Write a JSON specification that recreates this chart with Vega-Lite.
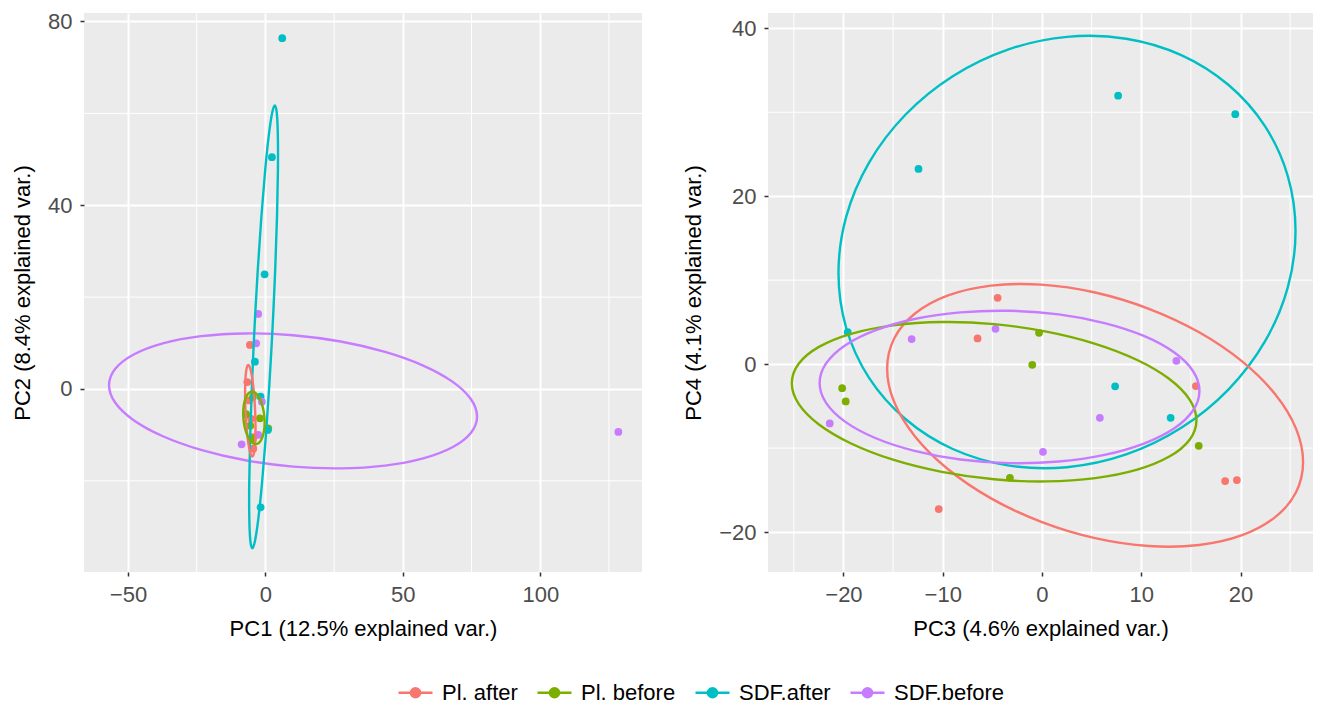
{
"$schema": "https://vega.github.io/schema/vega-lite/v6.json",
"background": "white",
"padding": {"left": 11, "top": 10, "right": 5, "bottom": 60},
"config": {
 "font": "Liberation Sans",
 "view": {"fill": "#EBEBEB", "stroke": null},
 "axis": {"domain": false, "grid": true, "gridColor": "#FFFFFF", "gridWidth": 2, "tickColor": "#333333", "tickSize": 4, "tickWidth": 1.5, "labelFont": "Liberation Sans", "labelFontSize": 22, "labelColor": "#4D4D4D", "labelPadding": 8, "labelFlush": false, "titleFont": "Liberation Sans", "titleFontSize": 22, "titleFontWeight": "normal", "titleColor": "#000000", "titlePadding": 13},
 "legend": {"orient": "none", "legendX": 313, "legendY": 661, "direction": "horizontal", "labelFont": "Liberation Sans", "labelFontSize": 22, "labelColor": "#000000", "symbolSize": 1156, "symbolStrokeWidth": 2.4, "labelOffset": 8, "columnPadding": 14, "padding": 0, "symbolType": "M-1,0H1M0.27,0A0.27,0.27,0,1,1,-0.27,0A0.27,0.27,0,1,1,0.27,0"}
},
"datasets": {
 "grid": [
  {"panel":"A","axis":"x","x":-25},{"panel":"A","axis":"x","x":25},{"panel":"A","axis":"x","x":75},{"panel":"A","axis":"x","x":125},
  {"panel":"A","axis":"y","y":-20},{"panel":"A","axis":"y","y":20},{"panel":"A","axis":"y","y":60},
  {"panel":"B","axis":"x","x":-25},{"panel":"B","axis":"x","x":-15},{"panel":"B","axis":"x","x":-5},{"panel":"B","axis":"x","x":5},{"panel":"B","axis":"x","x":15},{"panel":"B","axis":"x","x":25},
  {"panel":"B","axis":"y","y":-10},{"panel":"B","axis":"y","y":10},{"panel":"B","axis":"y","y":30}
 ],
 "pts": [
  {"panel":"A","group":"Pl. after","x":-5.64,"y":9.58},{"panel":"A","group":"Pl. after","x":-6.6,"y":1.5},{"panel":"A","group":"Pl. after","x":-6.0,"y":-2.5},{"panel":"A","group":"Pl. after","x":-5.2,"y":-6.5},{"panel":"A","group":"Pl. after","x":-4.6,"y":-10.5},{"panel":"A","group":"Pl. after","x":-4.4,"y":-13.0},
  {"panel":"A","group":"Pl. before","x":-2.0,"y":-6.38},{"panel":"A","group":"Pl. before","x":1.02,"y":-8.56},{"panel":"A","group":"Pl. before","x":-4.6,"y":-1.8},{"panel":"A","group":"Pl. before","x":-7.0,"y":-5.5},{"panel":"A","group":"Pl. before","x":-4.5,"y":-10.8},{"panel":"A","group":"Pl. before","x":-5.5,"y":-8.0},
  {"panel":"A","group":"SDF.after","x":6.11,"y":76.36},{"panel":"A","group":"SDF.after","x":2.36,"y":50.45},{"panel":"A","group":"SDF.after","x":-0.29,"y":24.97},{"panel":"A","group":"SDF.after","x":-3.82,"y":5.94},{"panel":"A","group":"SDF.after","x":-1.75,"y":-1.67},{"panel":"A","group":"SDF.after","x":0.91,"y":-8.93},{"panel":"A","group":"SDF.after","x":-1.75,"y":-25.76},
  {"panel":"A","group":"SDF.before","x":128.4,"y":-9.36},{"panel":"A","group":"SDF.before","x":-2.62,"y":16.33},{"panel":"A","group":"SDF.before","x":-3.35,"y":9.95},{"panel":"A","group":"SDF.before","x":-8.65,"y":-12.04},{"panel":"A","group":"SDF.before","x":-2.62,"y":-10.02},{"panel":"A","group":"SDF.before","x":-1.27,"y":-2.77},
  {"panel":"B","group":"Pl. after","x":-4.47,"y":7.89},{"panel":"B","group":"Pl. after","x":-6.49,"y":3.06},{"panel":"B","group":"Pl. after","x":-10.4,"y":-17.26},{"panel":"B","group":"Pl. after","x":15.5,"y":-2.62},{"panel":"B","group":"Pl. after","x":18.45,"y":-13.93},{"panel":"B","group":"Pl. after","x":19.63,"y":-13.81},
  {"panel":"B","group":"Pl. before","x":-0.3,"y":3.73},{"panel":"B","group":"Pl. before","x":-0.98,"y":-0.08},{"panel":"B","group":"Pl. before","x":-20.13,"y":-2.86},{"panel":"B","group":"Pl. before","x":-19.77,"y":-4.44},{"panel":"B","group":"Pl. before","x":-3.23,"y":-13.54},{"panel":"B","group":"Pl. before","x":15.79,"y":-9.73},
  {"panel":"B","group":"SDF.after","x":-12.44,"y":23.25},{"panel":"B","group":"SDF.after","x":7.67,"y":31.97},{"panel":"B","group":"SDF.after","x":19.47,"y":29.77},{"panel":"B","group":"SDF.after","x":7.37,"y":-2.65},{"panel":"B","group":"SDF.after","x":12.96,"y":-6.39},{"panel":"B","group":"SDF.after","x":-19.57,"y":3.81},
  {"panel":"B","group":"SDF.before","x":-13.13,"y":2.98},{"panel":"B","group":"SDF.before","x":-4.68,"y":4.2},{"panel":"B","group":"SDF.before","x":-21.38,"y":-7.06},{"panel":"B","group":"SDF.before","x":0.1,"y":-10.44},{"panel":"B","group":"SDF.before","x":13.54,"y":0.39},{"panel":"B","group":"SDF.before","x":5.83,"y":-6.39}
 ],
 "ell": [
  {"panel":"A","group":"SDF.before","i":0,"x":77.0,"y":-6.01},{"panel":"A","group":"SDF.before","i":1,"x":74.72,"y":-2.19},{"panel":"A","group":"SDF.before","i":2,"x":68.03,"y":1.6},{"panel":"A","group":"SDF.before","i":3,"x":57.39,"y":5.1},{"panel":"A","group":"SDF.before","i":4,"x":43.53,"y":8.07},{"panel":"A","group":"SDF.before","i":5,"x":27.38,"y":10.33},{"panel":"A","group":"SDF.before","i":6,"x":10.05,"y":11.7},{"panel":"A","group":"SDF.before","i":7,"x":-7.28,"y":12.09},{"panel":"A","group":"SDF.before","i":8,"x":-23.43,"y":11.49},{"panel":"A","group":"SDF.before","i":9,"x":-37.29,"y":9.92},{"panel":"A","group":"SDF.before","i":10,"x":-47.93,"y":7.5},{"panel":"A","group":"SDF.before","i":11,"x":-54.62,"y":4.39},{"panel":"A","group":"SDF.before","i":12,"x":-56.9,"y":0.81},{"panel":"A","group":"SDF.before","i":13,"x":-54.62,"y":-3.01},{"panel":"A","group":"SDF.before","i":14,"x":-47.93,"y":-6.8},{"panel":"A","group":"SDF.before","i":15,"x":-37.29,"y":-10.3},{"panel":"A","group":"SDF.before","i":16,"x":-23.43,"y":-13.27},{"panel":"A","group":"SDF.before","i":17,"x":-7.28,"y":-15.53},{"panel":"A","group":"SDF.before","i":18,"x":10.05,"y":-16.9},{"panel":"A","group":"SDF.before","i":19,"x":27.38,"y":-17.29},{"panel":"A","group":"SDF.before","i":20,"x":43.53,"y":-16.69},{"panel":"A","group":"SDF.before","i":21,"x":57.39,"y":-15.12},{"panel":"A","group":"SDF.before","i":22,"x":68.03,"y":-12.7},{"panel":"A","group":"SDF.before","i":23,"x":74.72,"y":-9.59},
  {"panel":"A","group":"SDF.after","i":0,"x":3.43,"y":61.7},{"panel":"A","group":"SDF.after","i":1,"x":4.14,"y":60.06},{"panel":"A","group":"SDF.after","i":2,"x":4.52,"y":55.24},{"panel":"A","group":"SDF.after","i":3,"x":4.55,"y":47.58},{"panel":"A","group":"SDF.after","i":4,"x":4.22,"y":37.6},{"panel":"A","group":"SDF.after","i":5,"x":3.56,"y":25.97},{"panel":"A","group":"SDF.after","i":6,"x":2.61,"y":13.5},{"panel":"A","group":"SDF.after","i":7,"x":1.44,"y":1.03},{"panel":"A","group":"SDF.after","i":8,"x":0.12,"y":-10.6},{"panel":"A","group":"SDF.after","i":9,"x":-1.25,"y":-20.58},{"panel":"A","group":"SDF.after","i":10,"x":-2.58,"y":-28.24},{"panel":"A","group":"SDF.after","i":11,"x":-3.78,"y":-33.06},{"panel":"A","group":"SDF.after","i":12,"x":-4.77,"y":-34.7},{"panel":"A","group":"SDF.after","i":13,"x":-5.48,"y":-33.06},{"panel":"A","group":"SDF.after","i":14,"x":-5.86,"y":-28.24},{"panel":"A","group":"SDF.after","i":15,"x":-5.89,"y":-20.58},{"panel":"A","group":"SDF.after","i":16,"x":-5.56,"y":-10.6},{"panel":"A","group":"SDF.after","i":17,"x":-4.9,"y":1.03},{"panel":"A","group":"SDF.after","i":18,"x":-3.95,"y":13.5},{"panel":"A","group":"SDF.after","i":19,"x":-2.78,"y":25.97},{"panel":"A","group":"SDF.after","i":20,"x":-1.46,"y":37.6},{"panel":"A","group":"SDF.after","i":21,"x":-0.09,"y":47.58},{"panel":"A","group":"SDF.after","i":22,"x":1.24,"y":55.24},{"panel":"A","group":"SDF.after","i":23,"x":2.44,"y":60.06},
  {"panel":"A","group":"Pl. after","i":0,"x":-6.24,"y":5.2},{"panel":"A","group":"Pl. after","i":1,"x":-5.77,"y":4.86},{"panel":"A","group":"Pl. after","i":2,"x":-5.27,"y":3.87},{"panel":"A","group":"Pl. after","i":3,"x":-4.78,"y":2.29},{"panel":"A","group":"Pl. after","i":4,"x":-4.36,"y":0.23},{"panel":"A","group":"Pl. after","i":5,"x":-4.0,"y":-2.17},{"panel":"A","group":"Pl. after","i":6,"x":-3.75,"y":-4.75},{"panel":"A","group":"Pl. after","i":7,"x":-3.62,"y":-7.33},{"panel":"A","group":"Pl. after","i":8,"x":-3.62,"y":-9.73},{"panel":"A","group":"Pl. after","i":9,"x":-3.74,"y":-11.79},{"panel":"A","group":"Pl. after","i":10,"x":-3.99,"y":-13.37},{"panel":"A","group":"Pl. after","i":11,"x":-4.33,"y":-14.36},{"panel":"A","group":"Pl. after","i":12,"x":-4.76,"y":-14.7},{"panel":"A","group":"Pl. after","i":13,"x":-5.23,"y":-14.36},{"panel":"A","group":"Pl. after","i":14,"x":-5.73,"y":-13.37},{"panel":"A","group":"Pl. after","i":15,"x":-6.22,"y":-11.79},{"panel":"A","group":"Pl. after","i":16,"x":-6.64,"y":-9.73},{"panel":"A","group":"Pl. after","i":17,"x":-7.0,"y":-7.33},{"panel":"A","group":"Pl. after","i":18,"x":-7.25,"y":-4.75},{"panel":"A","group":"Pl. after","i":19,"x":-7.38,"y":-2.17},{"panel":"A","group":"Pl. after","i":20,"x":-7.38,"y":0.23},{"panel":"A","group":"Pl. after","i":21,"x":-7.26,"y":2.29},{"panel":"A","group":"Pl. after","i":22,"x":-7.01,"y":3.87},{"panel":"A","group":"Pl. after","i":23,"x":-6.67,"y":4.86},
  {"panel":"A","group":"Pl. before","i":0,"x":-4.86,"y":-0.6},{"panel":"A","group":"Pl. before","i":1,"x":-3.84,"y":-0.79},{"panel":"A","group":"Pl. before","i":2,"x":-2.84,"y":-1.36},{"panel":"A","group":"Pl. before","i":3,"x":-1.95,"y":-2.27},{"panel":"A","group":"Pl. before","i":4,"x":-1.2,"y":-3.45},{"panel":"A","group":"Pl. before","i":5,"x":-0.65,"y":-4.82},{"panel":"A","group":"Pl. before","i":6,"x":-0.35,"y":-6.3},{"panel":"A","group":"Pl. before","i":7,"x":-0.31,"y":-7.78},{"panel":"A","group":"Pl. before","i":8,"x":-0.52,"y":-9.15},{"panel":"A","group":"Pl. before","i":9,"x":-0.99,"y":-10.33},{"panel":"A","group":"Pl. before","i":10,"x":-1.68,"y":-11.24},{"panel":"A","group":"Pl. before","i":11,"x":-2.54,"y":-11.81},{"panel":"A","group":"Pl. before","i":12,"x":-3.5,"y":-12.0},{"panel":"A","group":"Pl. before","i":13,"x":-4.52,"y":-11.81},{"panel":"A","group":"Pl. before","i":14,"x":-5.52,"y":-11.24},{"panel":"A","group":"Pl. before","i":15,"x":-6.41,"y":-10.33},{"panel":"A","group":"Pl. before","i":16,"x":-7.16,"y":-9.15},{"panel":"A","group":"Pl. before","i":17,"x":-7.71,"y":-7.78},{"panel":"A","group":"Pl. before","i":18,"x":-8.01,"y":-6.3},{"panel":"A","group":"Pl. before","i":19,"x":-8.05,"y":-4.82},{"panel":"A","group":"Pl. before","i":20,"x":-7.84,"y":-3.45},{"panel":"A","group":"Pl. before","i":21,"x":-7.37,"y":-2.27},{"panel":"A","group":"Pl. before","i":22,"x":-6.68,"y":-1.36},{"panel":"A","group":"Pl. before","i":23,"x":-5.82,"y":-0.79},
  {"panel":"B","group":"SDF.after","i":0,"x":25.54,"y":15.86},{"panel":"B","group":"SDF.after","i":1,"x":24.76,"y":22.4},{"panel":"B","group":"SDF.after","i":2,"x":22.46,"y":28.34},{"panel":"B","group":"SDF.after","i":3,"x":18.8,"y":33.24},{"panel":"B","group":"SDF.after","i":4,"x":14.03,"y":36.81},{"panel":"B","group":"SDF.after","i":5,"x":8.48,"y":38.76},{"panel":"B","group":"SDF.after","i":6,"x":2.52,"y":38.98},{"panel":"B","group":"SDF.after","i":7,"x":-3.44,"y":37.46},{"panel":"B","group":"SDF.after","i":8,"x":-8.99,"y":34.29},{"panel":"B","group":"SDF.after","i":9,"x":-13.76,"y":29.7},{"panel":"B","group":"SDF.after","i":10,"x":-17.42,"y":24.0},{"panel":"B","group":"SDF.after","i":11,"x":-19.72,"y":17.56},{"panel":"B","group":"SDF.after","i":12,"x":-20.5,"y":10.84},{"panel":"B","group":"SDF.after","i":13,"x":-19.72,"y":4.3},{"panel":"B","group":"SDF.after","i":14,"x":-17.42,"y":-1.64},{"panel":"B","group":"SDF.after","i":15,"x":-13.76,"y":-6.54},{"panel":"B","group":"SDF.after","i":16,"x":-8.99,"y":-10.11},{"panel":"B","group":"SDF.after","i":17,"x":-3.44,"y":-12.06},{"panel":"B","group":"SDF.after","i":18,"x":2.52,"y":-12.28},{"panel":"B","group":"SDF.after","i":19,"x":8.48,"y":-10.76},{"panel":"B","group":"SDF.after","i":20,"x":14.03,"y":-7.59},{"panel":"B","group":"SDF.after","i":21,"x":18.8,"y":-3.0},{"panel":"B","group":"SDF.after","i":22,"x":22.46,"y":2.7},{"panel":"B","group":"SDF.after","i":23,"x":24.76,"y":9.14},
  {"panel":"B","group":"Pl. after","i":0,"x":26.3,"y":-11.66},{"panel":"B","group":"Pl. after","i":1,"x":25.59,"y":-7.68},{"panel":"B","group":"Pl. after","i":2,"x":23.49,"y":-3.59},{"panel":"B","group":"Pl. after","i":3,"x":20.16,"y":0.32},{"panel":"B","group":"Pl. after","i":4,"x":15.83,"y":3.79},{"panel":"B","group":"Pl. after","i":5,"x":10.77,"y":6.59},{"panel":"B","group":"Pl. after","i":6,"x":5.35,"y":8.53},{"panel":"B","group":"Pl. after","i":7,"x":-0.07,"y":9.47},{"panel":"B","group":"Pl. after","i":8,"x":-5.13,"y":9.35},{"panel":"B","group":"Pl. after","i":9,"x":-9.46,"y":8.18},{"panel":"B","group":"Pl. after","i":10,"x":-12.79,"y":6.03},{"panel":"B","group":"Pl. after","i":11,"x":-14.89,"y":3.06},{"panel":"B","group":"Pl. after","i":12,"x":-15.6,"y":-0.54},{"panel":"B","group":"Pl. after","i":13,"x":-14.89,"y":-4.52},{"panel":"B","group":"Pl. after","i":14,"x":-12.79,"y":-8.61},{"panel":"B","group":"Pl. after","i":15,"x":-9.46,"y":-12.52},{"panel":"B","group":"Pl. after","i":16,"x":-5.13,"y":-15.99},{"panel":"B","group":"Pl. after","i":17,"x":-0.07,"y":-18.79},{"panel":"B","group":"Pl. after","i":18,"x":5.35,"y":-20.73},{"panel":"B","group":"Pl. after","i":19,"x":10.77,"y":-21.67},{"panel":"B","group":"Pl. after","i":20,"x":15.83,"y":-21.55},{"panel":"B","group":"Pl. after","i":21,"x":20.16,"y":-20.38},{"panel":"B","group":"Pl. after","i":22,"x":23.49,"y":-18.23},{"panel":"B","group":"Pl. after","i":23,"x":25.59,"y":-15.26},
  {"panel":"B","group":"Pl. before","i":0,"x":15.56,"y":-6.68},{"panel":"B","group":"Pl. before","i":1,"x":14.87,"y":-4.22},{"panel":"B","group":"Pl. before","i":2,"x":12.83,"y":-1.77},{"panel":"B","group":"Pl. before","i":3,"x":9.59,"y":0.49},{"panel":"B","group":"Pl. before","i":4,"x":5.37,"y":2.42},{"panel":"B","group":"Pl. before","i":5,"x":0.45,"y":3.87},{"panel":"B","group":"Pl. before","i":6,"x":-4.82,"y":4.76},{"panel":"B","group":"Pl. before","i":7,"x":-10.09,"y":5.01},{"panel":"B","group":"Pl. before","i":8,"x":-15.01,"y":4.62},{"panel":"B","group":"Pl. before","i":9,"x":-19.23,"y":3.61},{"panel":"B","group":"Pl. before","i":10,"x":-22.47,"y":2.05},{"panel":"B","group":"Pl. before","i":11,"x":-24.51,"y":0.04},{"panel":"B","group":"Pl. before","i":12,"x":-25.2,"y":-2.28},{"panel":"B","group":"Pl. before","i":13,"x":-24.51,"y":-4.74},{"panel":"B","group":"Pl. before","i":14,"x":-22.47,"y":-7.19},{"panel":"B","group":"Pl. before","i":15,"x":-19.23,"y":-9.45},{"panel":"B","group":"Pl. before","i":16,"x":-15.01,"y":-11.38},{"panel":"B","group":"Pl. before","i":17,"x":-10.09,"y":-12.83},{"panel":"B","group":"Pl. before","i":18,"x":-4.82,"y":-13.72},{"panel":"B","group":"Pl. before","i":19,"x":0.45,"y":-13.97},{"panel":"B","group":"Pl. before","i":20,"x":5.37,"y":-13.58},{"panel":"B","group":"Pl. before","i":21,"x":9.59,"y":-12.57},{"panel":"B","group":"Pl. before","i":22,"x":12.83,"y":-11.01},{"panel":"B","group":"Pl. before","i":23,"x":14.87,"y":-9.0},
  {"panel":"B","group":"SDF.before","i":0,"x":15.86,"y":-3.19},{"panel":"B","group":"SDF.before","i":1,"x":15.21,"y":-0.82},{"panel":"B","group":"SDF.before","i":2,"x":13.3,"y":1.41},{"panel":"B","group":"SDF.before","i":3,"x":10.26,"y":3.36},{"panel":"B","group":"SDF.before","i":4,"x":6.3,"y":4.89},{"panel":"B","group":"SDF.before","i":5,"x":1.68,"y":5.92},{"panel":"B","group":"SDF.before","i":6,"x":-3.27,"y":6.35},{"panel":"B","group":"SDF.before","i":7,"x":-8.22,"y":6.16},{"panel":"B","group":"SDF.before","i":8,"x":-12.84,"y":5.37},{"panel":"B","group":"SDF.before","i":9,"x":-16.8,"y":4.02},{"panel":"B","group":"SDF.before","i":10,"x":-19.84,"y":2.23},{"panel":"B","group":"SDF.before","i":11,"x":-21.75,"y":0.08},{"panel":"B","group":"SDF.before","i":12,"x":-22.4,"y":-2.25},{"panel":"B","group":"SDF.before","i":13,"x":-21.75,"y":-4.62},{"panel":"B","group":"SDF.before","i":14,"x":-19.84,"y":-6.85},{"panel":"B","group":"SDF.before","i":15,"x":-16.8,"y":-8.8},{"panel":"B","group":"SDF.before","i":16,"x":-12.84,"y":-10.33},{"panel":"B","group":"SDF.before","i":17,"x":-8.22,"y":-11.36},{"panel":"B","group":"SDF.before","i":18,"x":-3.27,"y":-11.79},{"panel":"B","group":"SDF.before","i":19,"x":1.68,"y":-11.6},{"panel":"B","group":"SDF.before","i":20,"x":6.3,"y":-10.81},{"panel":"B","group":"SDF.before","i":21,"x":10.26,"y":-9.46},{"panel":"B","group":"SDF.before","i":22,"x":13.3,"y":-7.67},{"panel":"B","group":"SDF.before","i":23,"x":15.21,"y":-5.52}
 ]
},
"resolve": {"scale": {"color": "shared"}, "legend": {"color": "shared"}},
"spacing": 39,
"hconcat": [
 {
  "width": 558, "height": 559,
  "layer": [
   {"data": {"name": "grid"}, "transform": [{"filter": "datum.panel == 'A' && datum.axis == 'x'"}],
    "mark": {"type": "rule", "color": "#FFFFFF", "strokeWidth": 1},
    "encoding": {"x": {"field": "x", "type": "quantitative", "scale": {"domain": [-66, 137], "nice": false, "zero": false}, "axis": {"values": [-50, 0, 50, 100], "title": "PC1 (12.5% explained var.)"}}}},
   {"data": {"name": "grid"}, "transform": [{"filter": "datum.panel == 'A' && datum.axis == 'y'"}],
    "mark": {"type": "rule", "color": "#FFFFFF", "strokeWidth": 1},
    "encoding": {"y": {"field": "y", "type": "quantitative", "scale": {"domain": [-39.85, 81.85], "nice": false, "zero": false}, "axis": {"values": [-40, 0, 40, 80], "title": "PC2 (8.4% explained var.)"}}}},
   {"data": {"name": "pts"}, "transform": [{"filter": "datum.panel == 'A'"}],
    "mark": {"type": "point", "filled": true, "size": 60, "opacity": 1},
    "encoding": {
     "x": {"field": "x", "type": "quantitative", "scale": {"domain": [-66, 137], "nice": false, "zero": false}, "axis": {"values": [-50, 0, 50, 100], "title": "PC1 (12.5% explained var.)"}},
     "y": {"field": "y", "type": "quantitative", "scale": {"domain": [-39.85, 81.85], "nice": false, "zero": false}, "axis": {"values": [-40, 0, 40, 80], "title": "PC2 (8.4% explained var.)"}},
     "color": {"field": "group", "type": "nominal", "scale": {"domain": ["Pl. after", "Pl. before", "SDF.after", "SDF.before"], "range": ["#F8766D", "#7CAE00", "#00BFC4", "#C77CFF"]}, "legend": {"title": null, "encode": {"symbols": {"update": {"fill": {"scale": "color", "field": "value"}, "stroke": {"scale": "color", "field": "value"}, "fillOpacity": {"value": 1}, "strokeOpacity": {"value": 1}}}}}}
    }},
   {"data": {"name": "ell"}, "transform": [{"filter": "datum.panel == 'A'"}],
    "mark": {"type": "line", "strokeWidth": 2.4, "interpolate": "cardinal-closed"},
    "encoding": {
     "x": {"field": "x", "type": "quantitative", "scale": {"domain": [-66, 137], "nice": false, "zero": false}, "axis": {"values": [-50, 0, 50, 100], "title": "PC1 (12.5% explained var.)"}},
     "y": {"field": "y", "type": "quantitative", "scale": {"domain": [-39.85, 81.85], "nice": false, "zero": false}, "axis": {"values": [-40, 0, 40, 80], "title": "PC2 (8.4% explained var.)"}},
     "color": {"field": "group", "type": "nominal", "legend": {"title": null, "encode": {"symbols": {"update": {"fill": {"scale": "color", "field": "value"}, "stroke": {"scale": "color", "field": "value"}, "fillOpacity": {"value": 1}, "strokeOpacity": {"value": 1}}}}}},
     "order": {"field": "i", "type": "quantitative"}
    }}
  ]
 },
 {
  "width": 545, "height": 559,
  "layer": [
   {"data": {"name": "grid"}, "transform": [{"filter": "datum.panel == 'B' && datum.axis == 'x'"}],
    "mark": {"type": "rule", "color": "#FFFFFF", "strokeWidth": 1},
    "encoding": {"x": {"field": "x", "type": "quantitative", "scale": {"domain": [-27.6, 27.3], "nice": false, "zero": false}, "axis": {"values": [-20, -10, 0, 10, 20], "title": "PC3 (4.6% explained var.)"}}}},
   {"data": {"name": "grid"}, "transform": [{"filter": "datum.panel == 'B' && datum.axis == 'y'"}],
    "mark": {"type": "rule", "color": "#FFFFFF", "strokeWidth": 1},
    "encoding": {"y": {"field": "y", "type": "quantitative", "scale": {"domain": [-24.76, 41.82], "nice": false, "zero": false}, "axis": {"values": [-20, 0, 20, 40], "title": "PC4 (4.1% explained var.)"}}}},
   {"data": {"name": "pts"}, "transform": [{"filter": "datum.panel == 'B'"}],
    "mark": {"type": "point", "filled": true, "size": 60, "opacity": 1},
    "encoding": {
     "x": {"field": "x", "type": "quantitative", "scale": {"domain": [-27.6, 27.3], "nice": false, "zero": false}, "axis": {"values": [-20, -10, 0, 10, 20], "title": "PC3 (4.6% explained var.)"}},
     "y": {"field": "y", "type": "quantitative", "scale": {"domain": [-24.76, 41.82], "nice": false, "zero": false}, "axis": {"values": [-20, 0, 20, 40], "title": "PC4 (4.1% explained var.)"}},
     "color": {"field": "group", "type": "nominal", "legend": {"title": null, "encode": {"symbols": {"update": {"fill": {"scale": "color", "field": "value"}, "stroke": {"scale": "color", "field": "value"}, "fillOpacity": {"value": 1}, "strokeOpacity": {"value": 1}}}}}}
    }},
   {"data": {"name": "ell"}, "transform": [{"filter": "datum.panel == 'B'"}],
    "mark": {"type": "line", "strokeWidth": 2.4, "interpolate": "cardinal-closed"},
    "encoding": {
     "x": {"field": "x", "type": "quantitative", "scale": {"domain": [-27.6, 27.3], "nice": false, "zero": false}, "axis": {"values": [-20, -10, 0, 10, 20], "title": "PC3 (4.6% explained var.)"}},
     "y": {"field": "y", "type": "quantitative", "scale": {"domain": [-24.76, 41.82], "nice": false, "zero": false}, "axis": {"values": [-20, 0, 20, 40], "title": "PC4 (4.1% explained var.)"}},
     "color": {"field": "group", "type": "nominal", "legend": {"title": null, "encode": {"symbols": {"update": {"fill": {"scale": "color", "field": "value"}, "stroke": {"scale": "color", "field": "value"}, "fillOpacity": {"value": 1}, "strokeOpacity": {"value": 1}}}}}},
     "order": {"field": "i", "type": "quantitative"}
    }}
  ]
 }
]
}
